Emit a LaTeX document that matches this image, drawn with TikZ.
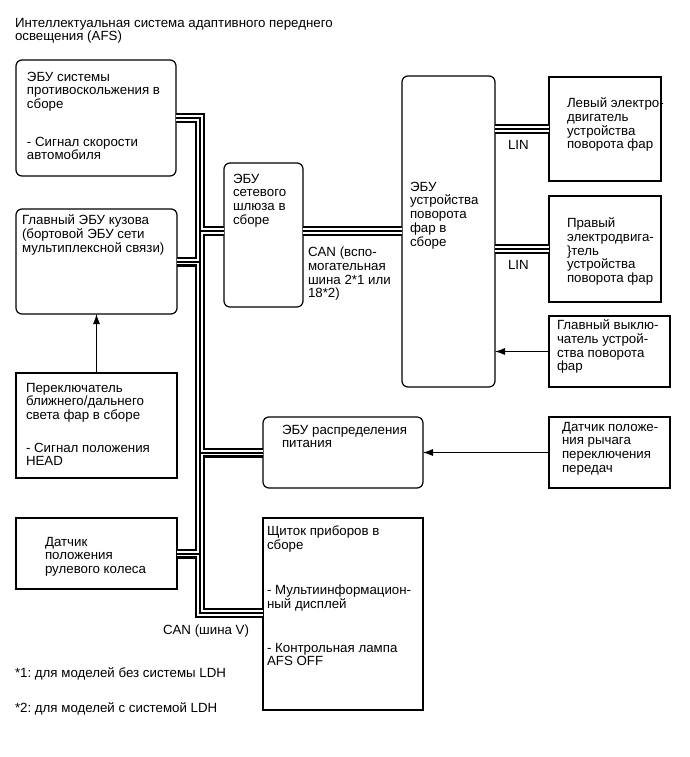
\documentclass[tikz,border=0pt]{standalone}
\usepackage{fontspec}
\setmainfont{Liberation Sans}
\usetikzlibrary{arrows.meta}
\frenchspacing
\begin{document}
\begin{tikzpicture}[x=1pt,y=-1pt,
 every node/.style={inner sep=0pt, outer sep=0pt},
 rbox/.style={draw=black, line width=1.2pt, rounded corners=6pt},
 sbox/.style={draw=black, line width=1.2pt},
 txt/.style={anchor=north west, align=left, font=\fontsize{13.3}{13.7}\selectfont},
 bus/.style={draw=black, line width=10pt, line join=miter,
   postaction={draw=white, line width=5.6pt, line join=miter},
   postaction={draw=black, line width=2pt, line join=miter}},
 arr/.style={draw=black, line width=0.8pt, -{Latex[length=10pt,width=7pt]}}]
\fill[white] (0,0) rectangle (689,757);
\useasboundingbox (0,0) rectangle (689,757);

% boxes
\node[rbox, minimum width=160pt, minimum height=116pt] (b1) at (96,118) {};
\node[rbox, minimum width=161pt, minimum height=105pt] (b2) at (96.5,261.5) {};
\node[sbox, minimum width=161pt, minimum height=105pt] (b3) at (96.5,425.5) {};
\node[sbox, minimum width=161pt, minimum height=71pt] (b4) at (96.5,553.5) {};
\node[rbox, minimum width=79pt, minimum height=144pt] (gw) at (263.5,235) {};
\node[rbox, minimum width=93pt, minimum height=311pt] (ecu) at (448.5,231.5) {};
\node[sbox, minimum width=112pt, minimum height=104pt] (lm) at (605,129) {};
\node[sbox, minimum width=112pt, minimum height=106pt] (rm) at (605,249) {};
\node[sbox, minimum width=121pt, minimum height=71pt] (sw) at (609.5,351.5) {};
\node[sbox, minimum width=121pt, minimum height=71pt] (sens) at (609.5,452.5) {};
\node[rbox, minimum width=160pt, minimum height=71pt] (pwr) at (343,452.5) {};
\node[sbox, minimum width=160pt, minimum height=192pt] (cl) at (343,614) {};

% bus junctions
\coordinate (busTop) at (200,118);
\coordinate (busBot) at (200,613);
\coordinate (jgw) at (200,231);

\draw[bus] (b1.east) -- (busTop) -- (busBot) -- (cl.west |- busBot)
  (jgw) -- (gw.west |- jgw)
  (b2.east) -- (b2.east -| busTop)
  (pwr.west -| busTop) -- (pwr.west)
  (b4.east) -- (b4.east -| busTop)
  (gw.east |- jgw) -- (ecu.west |- jgw)
  (ecu.east |- lm.west) -- (lm.west)
  (ecu.east |- rm.west) -- (rm.west);

% arrows
\draw[arr] (b3.north) -- (b2.south);
\draw[arr] (sw.west) -- (ecu.east |- sw.west);
\draw[arr] (sens.west) -- (pwr.east);

% texts
\node[txt] (title) at (15,18) {Интеллектуальная система адаптивного переднего\\освещения (AFS)};
\node[txt] (t1) at (27,72) {ЭБУ системы\\противоскольжения в\\сборе};
\node[txt] (t1b) at (27,137) {- Сигнал скорости\\автомобиля};
\node[txt] (t2) at (22,215) {Главный ЭБУ кузова\\(бортовой ЭБУ сети\\мультиплексной связи)};
\node[txt] (t3) at (26,383) {Переключатель\\ближнего/дальнего\\света фар в сборе};
\node[txt] (t3b) at (26,443) {- Сигнал положения\\HEAD};
\node[txt] (t4) at (45,537) {Датчик\\положения\\рулевого колеса};
\node[txt] (tgw) at (233,174) {ЭБУ\\сетевого\\шлюза в\\сборе};
\node[txt] (tcan) at (308,247) {CAN (вспо-\\могательная\\шина 2*1 или\\18*2)};
\node[txt] (tecu) at (410,182) {ЭБУ\\устройства\\поворота\\фар в\\сборе};
\node[txt] (tlm) at (567,98) {Левый электро-\\двигатель\\устройства\\поворота фар};
\node[txt] (trm) at (567,218) {Правый\\электродвига-\\\}тель\\устройства\\поворота фар};
\node[txt] (tlin1) at (508,140) {LIN};
\node[txt] (tlin2) at (508,260) {LIN};
\node[txt] (tsw) at (557,320) {Главный выклю-\\чатель устрой-\\ства поворота\\фар};
\node[txt] (tsens) at (562,422) {Датчик положе-\\ния рычага\\переключения\\передач};
\node[txt] (tpwr) at (282,425) {ЭБУ распределения\\питания};
\node[txt] (tcl) at (267,526) {Щиток приборов в\\сборе};
\node[txt] (tcl2) at (267,585) {- Мультиинформацион-\\ный дисплей};
\node[txt] (tcl3) at (267,643) {- Контрольная лампа\\AFS OFF};
\node[txt] (tcanv) at (163,625) {CAN (шина V)};
\node[txt] (fn1) at (15,668) {*1: для моделей без системы LDH};
\node[txt] (fn2) at (15,703) {*2: для моделей с системой LDH};
\end{tikzpicture}
\end{document}
